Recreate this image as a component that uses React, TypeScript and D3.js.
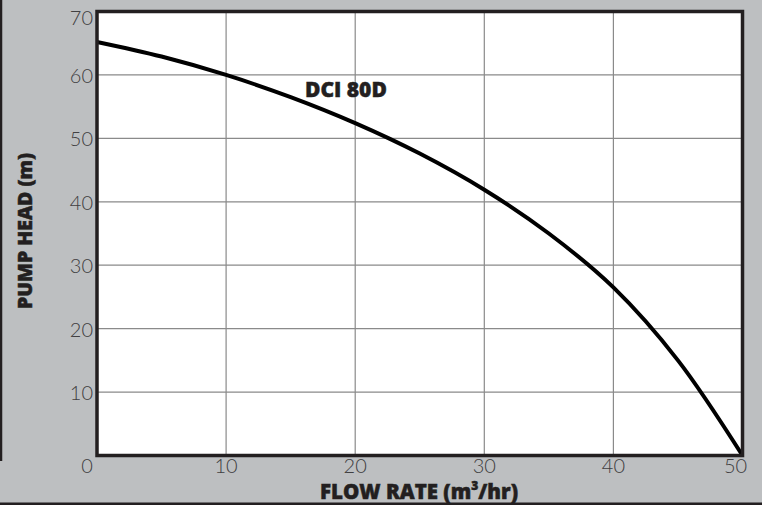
import React from "react";
import * as d3 from "d3";

const flowRates = [0, 5, 10, 15, 20, 25, 30, 35, 40, 45, 50];
const heads = [65.2, 62.9, 60.0, 56.5, 52.4, 47.6, 41.9, 35.0, 26.5, 15.0, 0];
const xTicks = [0, 10, 20, 30, 40, 50];
const yTicks = [10, 20, 30, 40, 50, 60, 70];
const curveLabel = "DCI 80D";
const xTitle = "FLOW RATE (m";
const xTitleSup = "3";
const xTitleEnd = "/hr)";
const yTitle = "PUMP HEAD (m)";

const W = 762;
const H = 505;
const BG = "#bdbfc1";
const INK = "#231f20";
const TICK_COLOR = "#414042";
const GRID = "#8a8a8a";

export default function App() {
  const x = d3.scaleLinear().domain([0, 50]).range([97, 742.5]);
  const y = d3.scaleLinear().domain([0, 70]).range([455.5, 11.5]);
  const pts = flowRates.map((f, i) => [f, heads[i]] as [number, number]);
  const line = d3
    .line<[number, number]>()
    .x((d) => x(d[0]))
    .y((d) => y(d[1]))
    .curve(d3.curveCatmullRom.alpha(0.5));

  const tickFont = "Lato, 'DejaVu Sans', sans-serif";
  const boldFont = "'Open Sans', 'DejaVu Sans', sans-serif";

  return (
    <svg
      width={W}
      height={H}
      style={{ position: "absolute", left: 0, top: 0, display: "block" }}
    >
      <rect x={0} y={0} width={W} height={H} fill={BG} />
      <line x1={1} x2={1} y1={0} y2={461} stroke={INK} strokeWidth={2.5} />
      <line x1={0} x2={W} y1={503.8} y2={503.8} stroke={INK} strokeWidth={2.5} />

      <rect
        x={x(0)}
        y={y(70)}
        width={x(50) - x(0)}
        height={y(0) - y(70)}
        fill="#ffffff"
      />
      {xTicks
        .filter((t) => t > 0 && t < 50)
        .map((t) => (
          <line
            key={"gx" + t}
            x1={x(t)}
            x2={x(t)}
            y1={y(70)}
            y2={y(0)}
            stroke={GRID}
            strokeWidth={1.2}
          />
        ))}
      {yTicks
        .filter((t) => t < 70)
        .map((t) => (
          <line
            key={"gy" + t}
            x1={x(0)}
            x2={x(50)}
            y1={y(t)}
            y2={y(t)}
            stroke={GRID}
            strokeWidth={1.2}
          />
        ))}

      <path
        d={line(pts) || ""}
        fill="none"
        stroke="#000000"
        strokeWidth={4}
        strokeLinejoin="round"
      />

      <rect
        x={x(0)}
        y={y(70)}
        width={x(50) - x(0)}
        height={y(0) - y(70)}
        fill="none"
        stroke={INK}
        strokeWidth={3.5}
      />

      {yTicks.map((t) => (
        <text
          key={"ty" + t}
          x={93}
          y={y(t) + (t === 70 ? 5 : 0)}
          textAnchor="end"
          dominantBaseline="central"
          fontFamily={tickFont}
          fontWeight={300}
          fontSize={20}
          fill={TICK_COLOR}
        >
          {t}
        </text>
      ))}

      {xTicks.map((t, i) => (
        <text
          key={"tx" + t}
          x={x(t) + (i === 0 ? -10 : i === xTicks.length - 1 ? -7 : 0)}
          y={473}
          textAnchor="middle"
          fontFamily={tickFont}
          fontWeight={300}
          fontSize={20}
          fill={TICK_COLOR}
        >
          {t}
        </text>
      ))}

      <text
        x={305}
        y={97}
        fontFamily={boldFont}
        fontWeight={800}
        fontSize={21}
        fill={INK}
        stroke={INK}
        strokeWidth={0.5}
      >
        {curveLabel}
      </text>

      <text
        x={419}
        y={499}
        textAnchor="middle"
        fontFamily={boldFont}
        fontWeight={800}
        fontSize={20.5}
        fill={INK}
        stroke={INK}
        strokeWidth={0.5}
      >
        {xTitle}
        <tspan fontSize={12} dy={-9}>
          {xTitleSup}
        </tspan>
        <tspan dy={9}>{xTitleEnd}</tspan>
      </text>
      <text
        transform={`translate(32, 231) rotate(-90)`}
        textAnchor="middle"
        fontFamily={boldFont}
        fontWeight={800}
        fontSize={19.5}
        fill={INK}
        stroke={INK}
        strokeWidth={0.5}
      >
        {yTitle}
      </text>
    </svg>
  );
}
